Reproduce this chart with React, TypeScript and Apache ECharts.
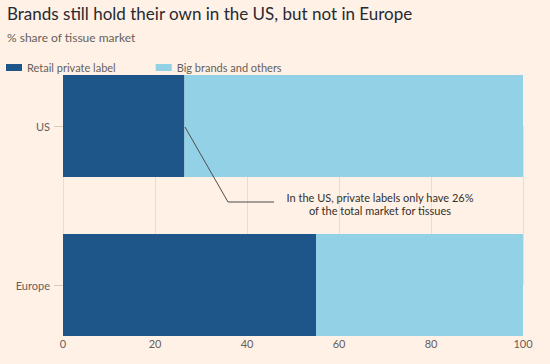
import React, { useEffect, useRef } from "react";
import * as echarts from "echarts";

const categories = ["US", "Europe"];
const privateLabel = [26.4, 55];
const bigBrands = [73.6, 45];
const xTicks = [0, 20, 40, 60, 80, 100];
const seriesNames = ["Retail private label", "Big brands and others"];
const titleText = "Brands still hold their own in the US, but not in Europe";
const subtitleText = "% share of tissue market";
const noteLines = ["In the US, private labels only have 26%", "of the total market for tissues"];

const FONT = "Lato, 'Noto Sans', sans-serif";

export default function App() {
  const ref = useRef<HTMLDivElement>(null);
  useEffect(() => {
    const chart = echarts.init(ref.current!, null, { renderer: "svg" });
    chart.setOption({
      animation: false,
      backgroundColor: "#fff1e5",
      textStyle: { fontFamily: FONT },
      title: {
        text: titleText,
        subtext: subtitleText,
        left: 2,
        top: 0,
        itemGap: 9,
        textStyle: { fontFamily: FONT, fontSize: 17, fontWeight: "normal", color: "#262a33" },
        subtextStyle: { fontFamily: FONT, fontSize: 12, color: "#66605c" },
      },
      legend: {
        left: 1,
        top: 57,
        icon: "rect",
        itemWidth: 16,
        itemHeight: 7,
        itemGap: 40,
        textStyle: { fontFamily: FONT, fontSize: 11, color: "#66605c" },
        data: seriesNames,
      },
      grid: { left: 63, right: 27, top: 126, height: 159, containLabel: false },
      xAxis: {
        type: "value",
        min: 0,
        max: 100,
        interval: 20,
        axisLine: { show: false },
        axisTick: { show: false },
        axisLabel: {
          margin: 53,
          fontSize: 11,
          color: "#66605c",
          formatter: (v: number) => (xTicks.includes(v) ? String(v) : ""),
        },
        splitLine: { show: true, lineStyle: { color: "#e9ddd2", width: 1 } },
      },
      yAxis: {
        type: "category",
        data: categories,
        inverse: true,
        boundaryGap: false,
        axisLine: { show: true, lineStyle: { color: "#e9ddd2" } },
        axisTick: { show: true, length: 9, alignWithLabel: true, lineStyle: { color: "#d8ccc1" } },
        axisLabel: { margin: 13, fontSize: 11, color: "#66605c" },
        splitLine: { show: false },
      },
      series: [
        {
          name: seriesNames[0],
          type: "bar",
          stack: "total",
          barWidth: 102,
          itemStyle: { color: "#1f5689" },
          data: privateLabel,
        },
        {
          name: seriesNames[1],
          type: "bar",
          stack: "total",
          barWidth: 102,
          itemStyle: { color: "#93d1e6" },
          data: bigBrands,
        },
      ],
      graphic: [
        {
          type: "polyline",
          shape: { points: [[185, 127], [228, 202], [274, 202]] },
          style: { stroke: "#4d4d4d", lineWidth: 1, fill: null },
          z: 100,
        },
        {
          type: "text",
          x: 380,
          y: 197,
          style: {
            text: noteLines[0],
            fontFamily: FONT,
            fontSize: 11,
            fill: "#33302e",
            align: "center",
            verticalAlign: "middle",
          },
          z: 100,
        },
        {
          type: "text",
          x: 380,
          y: 210,
          style: {
            text: noteLines[1],
            fontFamily: FONT,
            fontSize: 11,
            fill: "#33302e",
            align: "center",
            verticalAlign: "middle",
          },
          z: 100,
        },
      ],
    });
    return () => chart.dispose();
  }, []);
  return (
    <div
      ref={ref}
      style={{ position: "absolute", left: 0, top: 0, width: 550, height: 364 }}
    />
  );
}
